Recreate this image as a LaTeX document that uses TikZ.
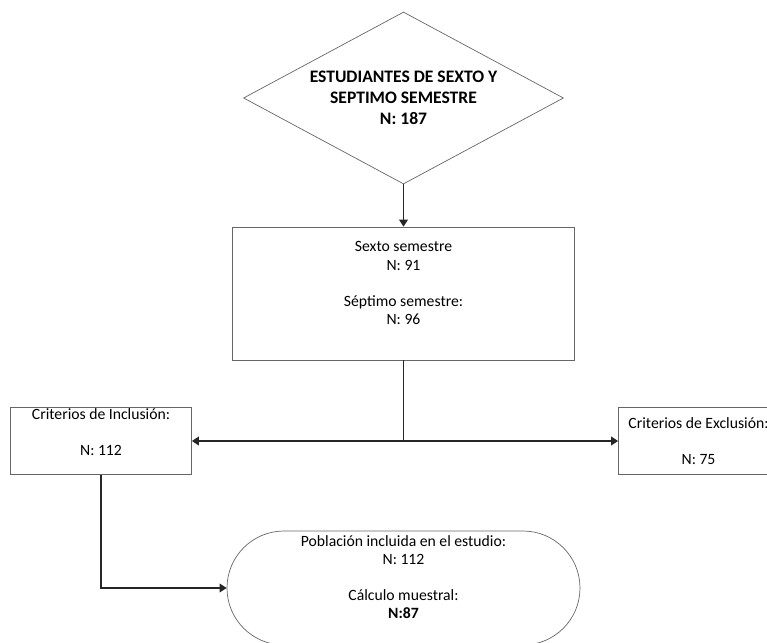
\documentclass[tikz,border=0pt]{standalone}
\usepackage{fontspec}
\setmainfont{Carlito}
\usetikzlibrary{shapes, shapes.geometric, shapes.misc, arrows.meta, positioning}

\begin{document}
\begin{tikzpicture}[on grid,
		forma/.style={draw=black!60, line width=0.6pt, align=center, inner sep=0pt,
			font=\fontsize{13.4}{15.4}\selectfont},
		caja/.style={forma, rectangle},
		linea/.style={draw=black!85, line width=1pt},
		link/.style={linea, -{Triangle[width=7.5pt,length=6pt]}}]
			\useasboundingbox (0,0) rectangle (23.01,-19.29);
			\node[forma, diamond, aspect=1.86, minimum width=9.6cm, minimum height=5.16cm,
				font=\fontsize{15}{17.9}\selectfont\bfseries] (pob) at (12.105,-2.94)
				{ESTUDIANTES DE SEXTO Y\\SEPTIMO SEMESTRE\\N: 187};
			\node[caja, minimum width=10.26cm, minimum height=3.99cm, text depth=18pt] (sem) [below=5.865cm of pob]
				{Sexto semestre\\N: 91\\[15.4pt]Séptimo semestre:\\N: 96};
			\coordinate[below=4.425cm of sem] (split);
			\node[caja, minimum width=5.43cm, minimum height=2.01cm, text depth=16pt] (inc) at ([xshift=-9.075cm]split)
				{Criterios de Inclusión:\\[15.4pt]N: 112};
			\node[caja, minimum width=4.8cm, minimum height=2.01cm] (exc) at ([xshift=8.85cm]split)
				{Criterios de Exclusión:\\[15.4pt]N: 75};
			\node[forma, rounded rectangle, minimum width=10.59cm, minimum height=3.42cm, text depth=19pt] (fin) [below=8.835cm of sem]
				{Población incluida en el estudio:\\N: 112\\[15.4pt]Cálculo muestral:\\\textbf{N:87}};
			\path
				(pob) edge[link] (sem)
				(split) edge[link] (inc.east |- split)
				(split) edge[link] (exc.west |- split);
			\draw[linea] (sem) -- (split);
			\draw[link] (inc) |- (fin);
		\end{tikzpicture}
\end{document}
